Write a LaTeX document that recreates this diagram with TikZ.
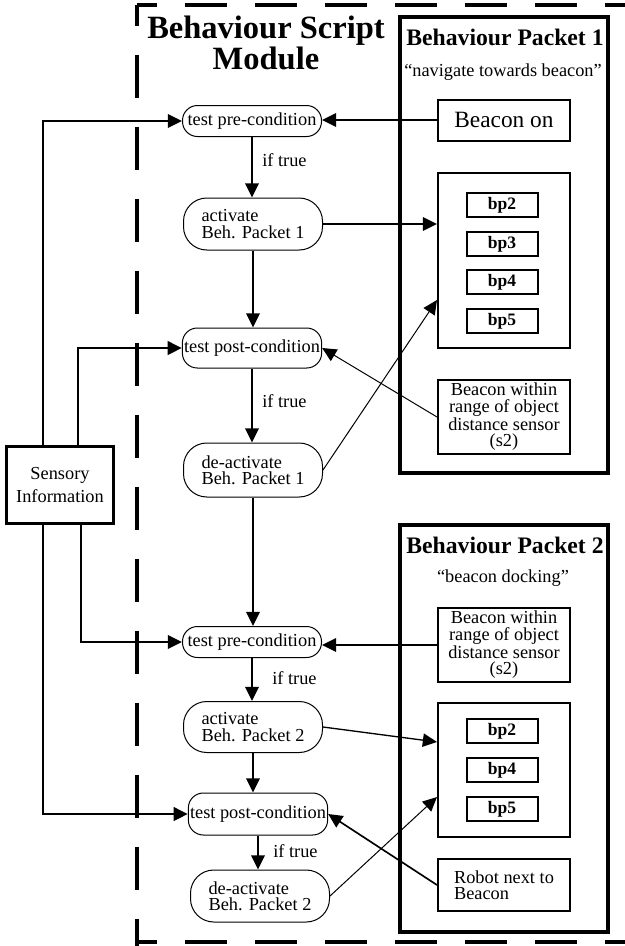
\documentclass[tikz,border=0pt]{standalone}
\usepackage{fontspec}
\setmainfont{Liberation Serif}
\usetikzlibrary{arrows.meta,calc}
\tikzset{
  cond/.style={draw, line width=0.6pt, rounded corners=9pt, minimum width=83.4pt,
               inner xsep=1pt, inner ysep=2pt, align=left,
               font=\fontsize{11}{9.8}\selectfont},
  twoline/.style={cond, rounded corners=14pt},
  item/.style={draw, line width=1.2pt, minimum width=79.2pt, inner sep=2pt,
               align=center, font=\fontsize{11}{9.8}\selectfont},
  bpbox/.style={draw, line width=1.2pt, minimum width=42.6pt, minimum height=14.4pt,
                inner sep=0pt, font=\fontsize{10.5}{12}\selectfont\bfseries},
  packet/.style={draw, line width=2.4pt, minimum width=124.8pt, inner sep=0pt},
  pktitle/.style={font=\fontsize{14.2}{16}\selectfont\bfseries},
  note/.style={font=\fontsize{11}{13}\selectfont, inner sep=0pt},
  sense/.style={draw, line width=2pt, minimum width=64.2pt, minimum height=46.2pt,
                align=center, inner sep=2pt, font=\fontsize{11}{14}\selectfont},
  modframe/.style={line width=2.4pt, dash pattern=on 25.2pt off 16.8pt, dash phase=13.2pt},
  flow/.style={-{Triangle[length=8.5pt,width=8pt]}, line width=1.6pt},
  thinflow/.style={-{Triangle[length=8.5pt,width=8pt]}, line width=0.6pt}
}

\begin{document}
\begin{tikzpicture}[x=0.6pt,y=-0.6pt]
  \useasboundingbox (0,0) rectangle (625,946);

  % module frame, open on the right
  \draw[modframe] (137,5) -- (625,5);
  \draw[modframe] (137,942) -- (625,942);
  \draw[modframe, dash pattern=on 26pt off 17.2pt] (137,5) -- (137,946);
  \node[font=\fontsize{19.5}{16.8}\selectfont\bfseries, align=center] (title) at (266,43)
    {Behaviour Script\\Module};

  % packet 1
  \node[packet, minimum height=273.6pt] (pk1) at (504,245) {};
  \node[pktitle, anchor=base] (pk1name) at (505,45) {Behaviour Packet 1};
  \node[note, anchor=base] (pk1task) at (503,76) {“navigate towards beacon”};
  \node[item, minimum height=24.6pt, font=\fontsize{14}{16}\selectfont] (beaconon) at (504,120) {Beacon on};
  \node[item, minimum height=105pt] (bpset1) at (504,260) {};
  \foreach \n/\y in {2/205,3/244,4/282,5/321}
    \node[bpbox] (pa\n) at (502,\y) {bp\n};
  \node[item, minimum height=43.8pt] (range1) at (504,417)
    {Beacon within\\range of object\\distance sensor\\(s2)};

  % packet 2
  \node[packet, minimum height=244.2pt] (pk2) at (504,728.5) {};
  \node[pktitle, anchor=base] (pk2name) at (505,553) {Behaviour Packet 2};
  \node[note, anchor=base] (pk2task) at (503,582) {“beacon docking”};
  \node[item, minimum height=44.4pt] (range2) at (504,645)
    {Beacon within\\range of object\\distance sensor\\(s2)};
  \node[item, minimum height=80.4pt] (bpset2) at (504,770) {};
  \foreach \n/\y in {2/731,4/770,5/809}
    \node[bpbox] (pb\n) at (502,\y) {bp\n};
  \node[item, minimum height=31.2pt, align=left] (robot) at (504,885) {Robot next to\\Beacon};

  % script steps
  \node[cond, minimum height=18.6pt] (pre1) at (252,121) {test pre-condition};
  \node[twoline, minimum height=31.2pt] (act1) at (253,224) {activate\\Beh. Packet 1};
  \node[cond, minimum height=24pt] (post1) at (252,348) {test post-condition};
  \node[twoline, minimum height=32.4pt] (deact1) at (253,470) {de-activate\\Beh. Packet 1};
  \node[cond, minimum height=18.6pt] (pre2) at (252,642) {test pre-condition};
  \node[twoline, minimum height=30.6pt] (act2) at (253,727) {activate\\Beh. Packet 2};
  \node[cond, minimum height=25.2pt] (post2) at (258,814) {test post-condition};
  \node[twoline, minimum height=31.2pt] (deact2) at (260,896) {de-activate\\Beh. Packet 2};

  \foreach \a/\b in {pre1/act1,act1/post1,post1/deact1,deact1/pre2,pre2/act2,act2/post2,post2/deact2}
    \draw[flow] (\a.south) -- (\a.south |- \b.north);

  \node[note, anchor=base west] (if1) at (262,166) {if true};
  \node[note, anchor=base west] (if2) at (262,407) {if true};
  \node[note, anchor=base west] (if3) at (272,684) {if true};
  \node[note, anchor=base west] (if4) at (273,857) {if true};

  % sensory input
  \node[sense] (sense) at (60,485) {Sensory\\Information};
  \draw[flow] ([xshift=-10.2pt]sense.north) |- (pre1.west);
  \draw[flow] ([xshift=10.8pt]sense.north) |- (post1.west);
  \draw[flow] ([xshift=12.6pt]sense.south) |- (pre2.west);
  \draw[flow] ([xshift=-10.2pt]sense.south) |- (post2.west);

  % links to the packets
  \draw[flow] (beaconon.west) -- (beaconon.west -| pre1.east);
  \draw[flow] (act1.east) -- (act1.east -| bpset1.west);
  \draw[thinflow] (deact1.east) -- ([yshift=-24pt]bpset1.west);
  \draw[thinflow] (range1.west) -- (post1.east);
  \draw[flow] (range2.west) -- (range2.west -| pre2.east);
  \draw[flow, line width=0.8pt] (act2.east) -- ([yshift=16.8pt]bpset2.west);
  \draw[thinflow] (deact2.east) -- ([yshift=-16.2pt]bpset2.west);
  \draw[flow, line width=1pt] (robot.west) -- (post2.east);
\end{tikzpicture}
\end{document}
